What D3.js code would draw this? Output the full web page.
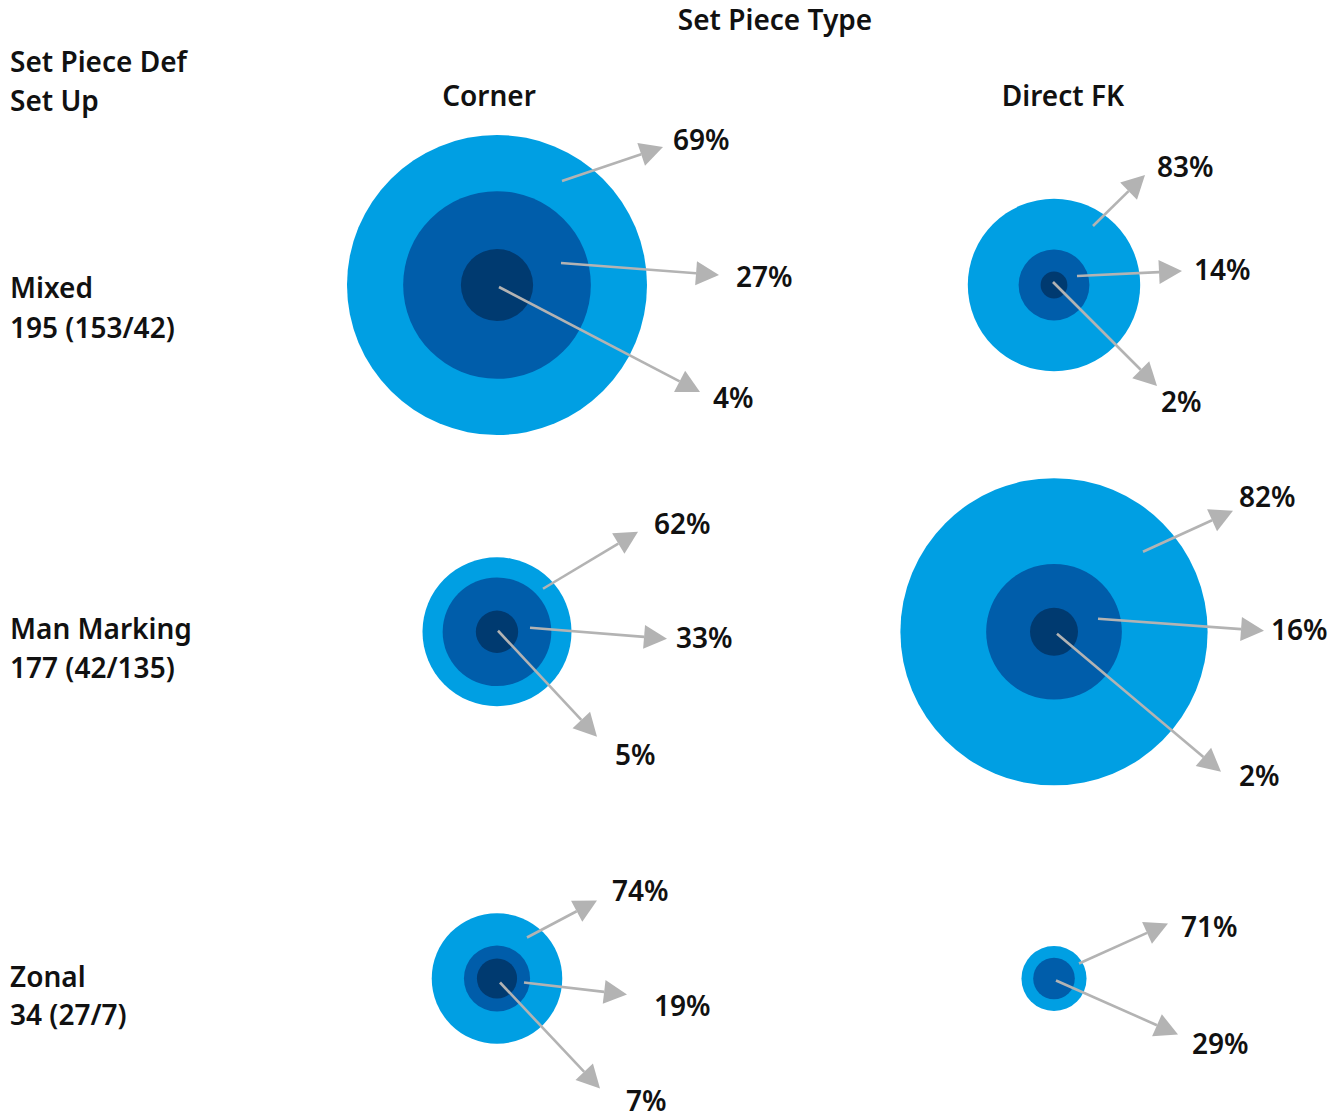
<!DOCTYPE html>
<html>
<head>
<meta charset="utf-8">
<script src="https://cdn.jsdelivr.net/npm/d3@7"></script>
<style>
  html, body { margin: 0; padding: 0; background: #fff; }
  svg text { font-family: "Noto Sans", "Open Sans", sans-serif; font-weight: 600; fill: #111; }
</style>
</head>
<body>
<svg id="chart" width="1343" height="1117"></svg>
<script>
// ---------- data ----------
const columns = ["Corner", "Direct FK"];
const rows = ["Mixed", "Man Marking", "Zonal"];
// number of set pieces per row / column
const totals = [[153, 42], [42, 135], [27, 7]];
// percentage shares (outer, middle, inner ring)
const outerPct  = [[69, 83], [62, 82], [74, 71]];
const middlePct = [[27, 14], [33, 16], [19, 29]];
const innerPct  = [[4, 2],   [5, 2],   [7, null]];

// ---------- layout (annotation geometry relative to circle centre) ----------
// [startDx, startDy, tipDx, tipDy, labelDx, labelDy(from tip)]
const arrowLayout = {
  "0-0": [[65,-104,166,-138,10,3], [64,-22,222,-10,17,12], [2,2,203,107,13,16]],
  "0-1": [[39,-59,91,-110,12,2],   [23,-9,128,-14,12,9],   [-1,-3,103,101,4,26]],
  "1-0": [[46,-43,141,-100,16,2],  [33,-4,170,7,9,9],      [1,-1,100,105,18,28]],
  "1-1": [[89,-80,179,-121,6,-4],  [44,-13,210,-1,7,9],    [3,2,167,140,18,14]],
  "2-0": [[30,-41,100,-78,15,0],   [27,4,130,16,27,21],    [3,4,103,110,26,22]],
  "2-1": [[25,-15,114,-55,13,13],  [2,2,124,56,14,19]]
};
// row label baselines offset from row centre
const rowLabelDy = [[12.5, 52.5], [7, 46], [8, 46]];

const colors = ["#009FE3", "#005DAA", "#003A70"];
const arrowColor = "#B3B3B3";
const labelSize = "28px", pctSize = "28px";

const svg = d3.select("#chart");
const x = d3.scalePoint().domain(columns).range([497, 1054]);
const y = d3.scalePoint().domain(rows).range([285, 978.5]);
const r = d3.scaleSqrt().domain([0, 100]).range([0, 146]);

// titles
svg.append("text").attr("x", 775).attr("y", 30).attr("text-anchor", "middle")
  .style("font-size", labelSize).text("Set Piece Type");
svg.append("text").attr("x", 10).attr("y", 72).style("font-size", labelSize).text("Set Piece Def");
svg.append("text").attr("x", 10).attr("y", 111).style("font-size", labelSize).text("Set Up");
columns.forEach((c, i) => {
  svg.append("text").attr("x", x(c) + (i === 0 ? -8 : 9)).attr("y", 106)
    .attr("text-anchor", "middle").style("font-size", labelSize).text(c);
});
rows.forEach((rw, i) => {
  const t = totals[i];
  svg.append("text").attr("x", 10).attr("y", y(rw) + rowLabelDy[i][0]).style("font-size", labelSize).text(rw);
  svg.append("text").attr("x", 10).attr("y", y(rw) + rowLabelDy[i][1]).style("font-size", labelSize)
    .text(`${t[0] + t[1]} (${t[0]}/${t[1]})`);
});

// cells
const cells = [];
rows.forEach((rw, i) => columns.forEach((c, j) => {
  const pcts = [outerPct[i][j], middlePct[i][j], innerPct[i][j]].filter(v => v != null);
  cells.push({ row: rw, col: c, i, j, total: totals[i][j], pcts });
}));

const g = svg.selectAll("g.cell").data(cells).join("g")
  .attr("class", "cell")
  .attr("transform", d => `translate(${x(d.col)},${y(d.row)})`);

g.selectAll("circle").data(d => d.pcts.map((p, k) => ({ p, k, total: d.total })))
  .join("circle")
  .attr("r", d => r(d.p * d.total / 100))
  .attr("fill", d => colors[d.k]);

// arrows
const headLen = 23, headHalf = 12;
g.each(function (d) {
  const lay = arrowLayout[`${d.i}-${d.j}`];
  const sel = d3.select(this);
  d.pcts.forEach((p, k) => {
    const [sx, sy, tx, ty, lx, ly] = lay[k];
    const ang = Math.atan2(ty - sy, tx - sx);
    const bx = tx - headLen * Math.cos(ang), by = ty - headLen * Math.sin(ang);
    sel.append("line").attr("x1", sx).attr("y1", sy).attr("x2", bx).attr("y2", by)
      .attr("stroke", arrowColor).attr("stroke-width", 2.6);
    const px = -Math.sin(ang) * headHalf, py = Math.cos(ang) * headHalf;
    sel.append("path")
      .attr("d", `M${tx},${ty}L${bx + px},${by + py}L${bx - px},${by - py}Z`)
      .attr("fill", arrowColor);
    sel.append("text").attr("x", tx + lx).attr("y", ty + ly)
      .style("font-size", pctSize).text(p + "%");
  });
});
</script>
</body>
</html>
